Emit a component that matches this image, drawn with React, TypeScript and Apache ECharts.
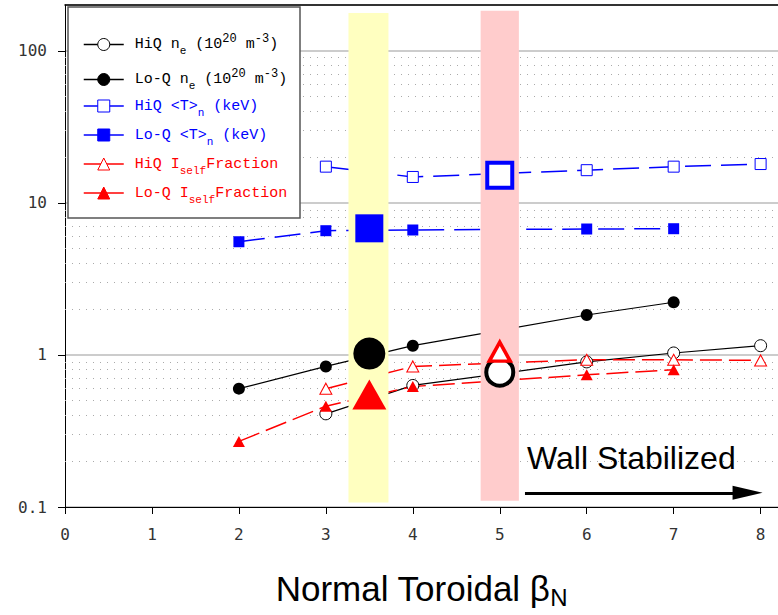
import React, { useEffect, useRef } from "react";
import * as echarts from "echarts";

// ---- data ----
const HIQ_X = [3, 4, 6, 7, 8];
const LOQ_X = [2, 3, 4, 6, 7];
const HIQ_NE = [0.41, 0.63, 0.9, 1.03, 1.15];
const LOQ_NE = [0.6, 0.84, 1.15, 1.83, 2.22];
const HIQ_T = [17.3, 14.8, 16.4, 17.3, 18.0];
const LOQ_T = [5.55, 6.56, 6.63, 6.73, 6.76];
const HIQ_I = [0.6, 0.84, 0.93, 0.93, 0.92];
const LOQ_I = [0.27, 0.46, 0.62, 0.74, 0.8];

// highlighted discharges
const LOQ_SHOT_X = 3.5;
const LOQ_SHOT_NE = 1.02;
const LOQ_SHOT_T = 6.8;
const LOQ_SHOT_I = 0.55;
const HIQ_SHOT_X = 5;
const HIQ_SHOT_NE = 0.77;
const HIQ_SHOT_T = 15.2;
const HIQ_SHOT_I = 1.05;

const X_MIN = 0;
const X_MAX = 8.2;
const Y_MIN = 0.1;
const Y_MAX = 200;
const Y_MINOR = [
  0.2, 0.3, 0.4, 0.5, 0.6, 0.7, 0.8, 0.9,
  2, 3, 4, 5, 6, 7, 8, 9,
  20, 30, 40, 50, 60, 70, 80, 90,
];

const BAND_LOQ_X = [3.26, 3.72];
const BAND_LOQ_Y = [0.107, 177];
const BAND_HIQ_X = [4.78, 5.22];
const BAND_HIQ_Y = [0.11, 183];
const ARROW_X = [5.29, 7.85];
const ARROW_Y = 0.124;

const LEGEND_NAMES = ["HiQ ne", "Lo-Q ne", "HiQ T", "Lo-Q T", "HiQ Iself", "Lo-Q Iself"];
const LEGEND_LABELS = [
  "{t|HiQ n}{sub|e}{t| (10}{sup|20}{t| m}{sup|-3}{t|)}",
  "{t|Lo-Q n}{sub|e}{t| (10}{sup|20}{t| m}{sup|-3}{t|)}",
  "{t|HiQ <T>}{sub|n}{t| (keV)}",
  "{t|Lo-Q <T>}{sub|n}{t| (keV)}",
  "{t|HiQ I}{sub|self}{t|Fraction}",
  "{t|Lo-Q I}{sub|self}{t|Fraction}",
];
const LEGEND_ROWS = [40, 75, 106, 135, 164, 193];
const LEGEND_COLORS = ["#000", "#000", "#0000ff", "#0000ff", "#ff0000", "#ff0000"];

const BLACK = "#000000";
const BLUE = "#0000ff";
const RED = "#ff0000";
const MONO = '"Liberation Mono", "DejaVu Sans Mono", monospace';
const SANS = '"Liberation Sans", Arial, sans-serif';

function pairs(xs: number[], ys: number[]) {
  return xs.map((x, i) => [x, ys[i]]);
}

function lineSeries(
  name: string,
  xs: number[],
  ys: number[],
  color: string,
  dash: any,
  width: number,
  symbol: string,
  size: any,
  filled: boolean
) {
  return {
    type: "line",
    name,
    data: pairs(xs, ys),
    symbol,
    symbolSize: size,
    showSymbol: true,
    silent: true,
    z: 2,
    lineStyle: { color, width, type: dash },
    itemStyle: {
      color: filled ? color : "#ffffff",
      borderColor: color,
      borderWidth: filled ? 0 : 1,
    },
  };
}

function bigPoint(x: number, y: number, symbol: string, size: any, fill: string, stroke: string, bw: number) {
  return {
    type: "scatter",
    data: [[x, y]],
    symbol,
    symbolSize: size,
    silent: true,
    z: 4,
    itemStyle: { color: fill, borderColor: stroke, borderWidth: bw, opacity: 1 },
  };
}

export default function App() {
  const ref = useRef<HTMLDivElement>(null);
  useEffect(() => {
    if (!ref.current) return;
    const chart = echarts.init(ref.current, null, { renderer: "svg" });
    const rich = {
      t: { fontFamily: MONO, fontSize: 15, lineHeight: 24 },
      sup: { fontFamily: MONO, fontSize: 12, lineHeight: 10, verticalAlign: "top" },
      sub: { fontFamily: MONO, fontSize: 11, lineHeight: 12, verticalAlign: "bottom" },
    };
    const legends = LEGEND_NAMES.map((n, i) => ({
      data: [n],
      left: 83,
      top: LEGEND_ROWS[i] - 7.5,
      padding: 0,
      orient: "vertical",
      itemWidth: 40,
      itemHeight: 15,
      selectedMode: false,
      z: 6,
      lineStyle: { type: "solid", width: 1.5 },
      itemStyle: { borderWidth: 1 },
      formatter: () => LEGEND_LABELS[i],
      textStyle: {
        color: LEGEND_COLORS[i],
        padding: [0, 0, 0, 6],
        rich: {
          t: { ...rich.t, color: LEGEND_COLORS[i] },
          sup: { ...rich.sup, color: LEGEND_COLORS[i] },
          sub: { ...rich.sub, color: LEGEND_COLORS[i] },
        },
      },
    }));

    const option: any = {
      animation: false,
      backgroundColor: "#ffffff",
      grid: { left: 65, right: 0, top: 5, bottom: 108, containLabel: false },
      legend: legends,
      xAxis: [
        {
          type: "value",
          min: X_MIN,
          max: X_MAX,
          interval: 1,
          axisLine: { show: true, lineStyle: { color: BLACK, width: 1 } },
          axisTick: { show: true, length: 7, lineStyle: { color: BLACK } },
          axisLabel: {
            showMaxLabel: false,
            margin: 19,
            fontFamily: '"DejaVu Sans Mono", monospace',
            fontSize: 16,
            color: "#333",
          },
          splitLine: { show: false },
          name: "{m|Normal Toroidal β}{s|N}",
          nameLocation: "middle",
          nameGap: 60,
          nameTextStyle: {
            rich: {
              m: { fontFamily: SANS, fontSize: 35, lineHeight: 42, color: BLACK },
              s: { fontFamily: SANS, fontSize: 24, lineHeight: 22, color: BLACK, verticalAlign: "bottom" },
            },
          },
        },
        {
          type: "value",
          position: "top",
          min: X_MIN,
          max: X_MAX,
          interval: 1,
          axisLine: { show: true, onZero: false, lineStyle: { color: BLACK, width: 1.5 } },
          axisTick: { show: false },
          axisLabel: { show: false },
          splitLine: { show: false },
        },
      ],
      yAxis: {
        type: "log",
        logBase: 10,
        min: Y_MIN,
        max: Y_MAX,
        axisLine: { show: true, lineStyle: { color: BLACK, width: 1 } },
        axisTick: { show: true, length: 7, lineStyle: { color: BLACK } },
        axisLabel: {
          showMaxLabel: false,
          margin: 18,
          fontFamily: '"DejaVu Sans Mono", monospace',
          fontSize: 16,
          color: "#333",
          formatter: (v: number) => String(v),
        },
        splitLine: { show: true, lineStyle: { color: "#cccccc", width: 2 } },
      },
      graphic: [
        {
          type: "rect",
          z: 5,
          shape: { x: 68, y: 7, width: 232, height: 211 },
          style: { fill: "#ffffff", stroke: "#555555", lineWidth: 1.5 },
        },
        {
          type: "text",
          z: 5,
          x: 527,
          y: 458,
          style: {
            text: "Wall Stabilized",
            fontFamily: SANS,
            fontSize: 32,
            fill: BLACK,
            verticalAlign: "middle",
            align: "left",
          },
        },
      ],
      series: [
        // minor dotted grid
        {
          type: "line",
          data: [[X_MIN, Y_MIN]],
          symbol: "none",
          silent: true,
          z: 1,
          lineStyle: { opacity: 0 },
          markLine: {
            silent: true,
            z: 1,
            symbol: ["none", "none"],
            label: { show: false },
            lineStyle: { color: "#aaaaaa", type: [1, 6], width: 1 },
            data: Y_MINOR.map((v) => ({ yAxis: v })),
          },
        },
        lineSeries(LEGEND_NAMES[0], HIQ_X, HIQ_NE, BLACK, "solid", 1.2, "circle", 12, false),
        lineSeries(LEGEND_NAMES[1], LOQ_X, LOQ_NE, BLACK, "solid", 1.2, "circle", 12, true),
        lineSeries(LEGEND_NAMES[2], HIQ_X, HIQ_T, BLUE, [26, 10], 1.5, "rect", 11, false),
        lineSeries(LEGEND_NAMES[3], LOQ_X, LOQ_T, BLUE, [26, 10], 1.5, "rect", 11, true),
        lineSeries(LEGEND_NAMES[4], HIQ_X, HIQ_I, RED, [22, 7], 1.5, "triangle", [12, 11], false),
        lineSeries(LEGEND_NAMES[5], LOQ_X, LOQ_I, RED, [22, 7], 1.5, "triangle", [12, 11], true),
        // bands + arrow
        {
          type: "line",
          data: [[X_MIN, Y_MIN]],
          symbol: "none",
          silent: true,
          z: 3,
          lineStyle: { opacity: 0 },
          markArea: {
            silent: true,
            z: 3,
            data: [
              [
                { coord: [BAND_LOQ_X[0], BAND_LOQ_Y[0]], itemStyle: { color: "#ffffc0", opacity: 1 } },
                { coord: [BAND_LOQ_X[1], BAND_LOQ_Y[1]] },
              ],
              [
                { coord: [BAND_HIQ_X[0], BAND_HIQ_Y[0]], itemStyle: { color: "#ffcccc", opacity: 1 } },
                { coord: [BAND_HIQ_X[1], BAND_HIQ_Y[1]] },
              ],
            ],
          },
          markLine: {
            silent: true,
            z: 5,
            symbol: ["none", "triangle"],
            symbolSize: [14, 30],
            label: { show: false },
            lineStyle: { color: BLACK, width: 3, type: "solid" },
            itemStyle: { color: BLACK },
            data: [[{ coord: [ARROW_X[0], ARROW_Y] }, { coord: [ARROW_X[1], ARROW_Y] }]],
          },
        },
        bigPoint(LOQ_SHOT_X, LOQ_SHOT_NE, "circle", 32, BLACK, BLACK, 0),
        bigPoint(LOQ_SHOT_X, LOQ_SHOT_T, "rect", 28, BLUE, BLUE, 0),
        bigPoint(LOQ_SHOT_X, LOQ_SHOT_I, "triangle", [34, 30], RED, RED, 0),
        bigPoint(HIQ_SHOT_X, HIQ_SHOT_NE, "circle", 27, "#ffffff", BLACK, 4),
        bigPoint(HIQ_SHOT_X, HIQ_SHOT_T, "rect", 25, "#ffffff", BLUE, 4),
        bigPoint(HIQ_SHOT_X, HIQ_SHOT_I, "triangle", [21, 19], "#ffffff", RED, 3.5),
      ],
    };
    chart.setOption(option);
    return () => chart.dispose();
  }, []);
  return (
    <div
      ref={ref}
      style={{ position: "absolute", left: 0, top: 0, width: 778, height: 615, background: "#fff" }}
    />
  );
}
